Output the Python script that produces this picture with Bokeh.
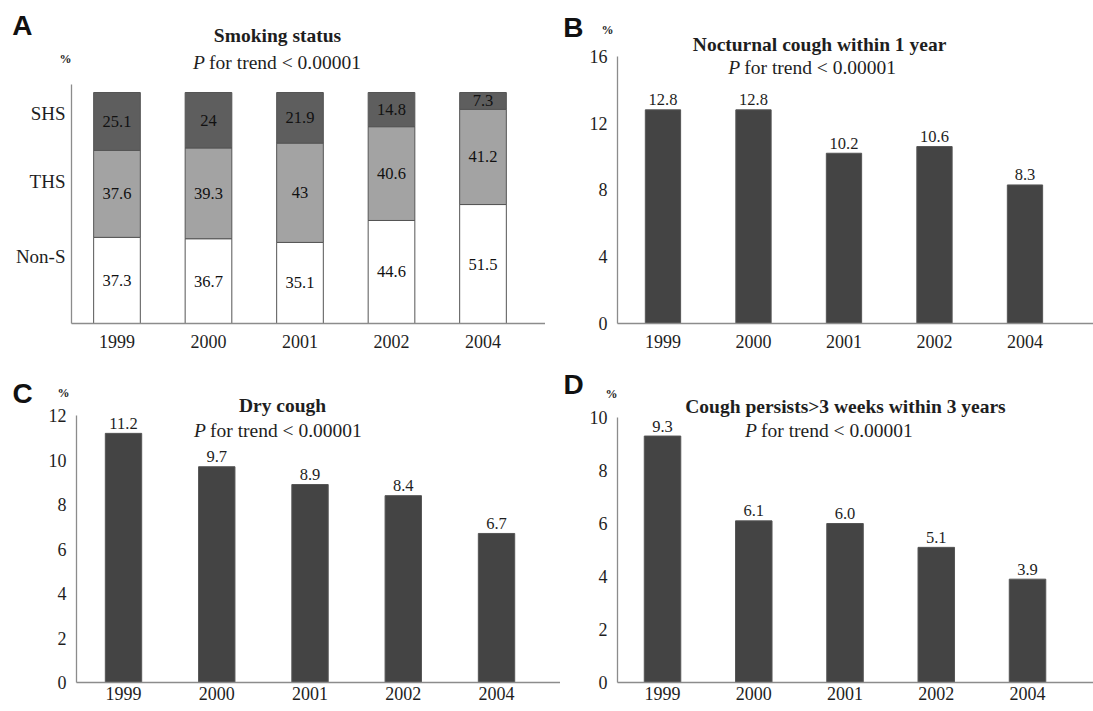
from bokeh.plotting import figure
from bokeh.layouts import column, row
from bokeh.models import Range1d, FixedTicker, Label, ColumnDataSource
from bokeh.core.properties import value
from bokeh.embed import file_html
from bokeh.resources import INLINE

years = ["1999", "2000", "2001", "2002", "2004"]
non_s = [37.3, 36.7, 35.1, 44.6, 51.5]
ths = [37.6, 39.3, 43.0, 40.6, 41.2]
shs = [25.1, 24.0, 21.9, 14.8, 7.3]
shs_txt = ["25.1", "24", "21.9", "14.8", "7.3"]
ths_txt = ["37.6", "39.3", "43", "40.6", "41.2"]
non_txt = ["37.3", "36.7", "35.1", "44.6", "51.5"]
nocturnal = [12.8, 12.8, 10.2, 10.6, 8.3]
dry = [11.2, 9.7, 8.9, 8.4, 6.7]
persist = [9.3, 6.1, 6.0, 5.1, 3.9]

SERIF = "Liberation Serif"
SANS = "Liberation Sans"
BAR = "#444444"
AX = "#8c8c8c"
TXT = "#1e1e1e"

xs = list(range(len(years)))


def base(width, height, x0, x1, ybot, ytop, axis_x):
    p = figure(width=width, height=height, x_range=Range1d(x0, x1), y_range=Range1d(ybot, ytop),
               output_backend="svg", toolbar_location=None,
               min_border_left=0, min_border_right=0, min_border_top=0,
               min_border_bottom=0)
    p.outline_line_color = None
    p.grid.grid_line_color = None
    p.background_fill_color = "white"
    p.border_fill_color = "white"
    for ax in (p.xaxis[0], p.yaxis[0]):
        ax.axis_line_color = AX
        ax.axis_line_width = 1.3
        ax.major_tick_line_color = None
        ax.minor_tick_line_color = None
        ax.major_tick_out = 0
        ax.major_tick_in = 0
        ax.major_label_text_font = SERIF
        ax.major_label_text_font_size = "18px"
        ax.major_label_text_color = TXT
    p.yaxis.fixed_location = axis_x
    p.xaxis.fixed_location = 0
    p.xaxis.bounds = (axis_x, x1)
    p.xaxis.ticker = FixedTicker(ticks=xs)
    p.xaxis.major_label_overrides = {i: y for i, y in enumerate(years)}
    return p


def add_titles(p, title, tx, ty, px_, py_, letter, lx, ly, pcx, pcy):
    p.add_layout(Label(x=tx, y=ty, text=title, text_font=SERIF, text_font_size="19.5px",
                       text_font_style="bold", text_align="center", text_baseline="middle",
                       text_color=TXT))
    p.add_layout(Label(x=px_, y=py_, text="P", text_font=SERIF, text_font_size="19.5px",
                       text_font_style="italic", text_align="left", text_baseline="middle",
                       text_color=TXT, x_offset=-84))
    p.add_layout(Label(x=px_, y=py_, text="for trend < 0.00001", text_font=SERIF,
                       text_font_size="19.5px", text_align="left", text_baseline="middle",
                       text_color=TXT, x_offset=-68))
    p.add_layout(Label(x=lx, y=ly, text=letter, text_font=SANS, text_font_size="28px",
                       text_font_style="bold", text_align="center", text_baseline="middle",
                       text_color="#111111"))
    p.add_layout(Label(x=pcx, y=pcy, text="%", text_font=SERIF, text_font_size="12px",
                       text_font_style="bold", text_align="center", text_baseline="middle",
                       text_color="#222222"))


# ---------- Panel A ----------
pa = base(545, 355, -1.273, 4.683, -13.85, 139.83, -0.497)
pa.yaxis.bounds = (0, 103.5)
pa.yaxis.ticker = FixedTicker(ticks=[29, 61.5, 91])
pa.yaxis.major_label_overrides = {29: "Non-S", 61.5: "THS", 91: "SHS"}
pa.yaxis.major_label_text_font_size = "19px"
pa.yaxis.major_label_standoff = 6
pa.xaxis.major_label_standoff = 11
srcA = ColumnDataSource(dict(x=xs, non=non_s,
                             b1=[a + b for a, b in zip(non_s, ths)],
                             top=[a + b + c for a, b, c in zip(non_s, ths, shs)],
                             non_txt=non_txt, ths_txt=ths_txt, shs_txt=shs_txt,
                             non_mid=[a / 2 for a in non_s],
                             ths_mid=[a + b / 2 for a, b in zip(non_s, ths)],
                             shs_mid=[a + b + c / 2 for a, b, c in zip(non_s, ths, shs)]))
pa.vbar(x="x", bottom=0, top="non", width=0.51, source=srcA,
        fill_color="white", line_color="#555555", line_width=1)
pa.vbar(x="x", bottom="non", top="b1", width=0.51, source=srcA,
        fill_color="#a3a3a3", line_color="#555555", line_width=1)
pa.vbar(x="x", bottom="b1", top="top", width=0.51, source=srcA,
        fill_color="#5e5e5e", line_color="#555555", line_width=1)
for t, m in (("non_txt", "non_mid"), ("ths_txt", "ths_mid"), ("shs_txt", "shs_mid")):
    pa.text(x="x", y=m, text=t, source=srcA, text_font=value(SERIF),
            text_font_size="16.5px", text_align="center", text_baseline="middle",
            text_color="#111111")
add_titles(pa, "Smoking status", 1.754, 124.7, 1.75, 113.0, "A", -1.033, 129.0, -0.563, 114.7)


def simple(width, height, x0, x1, ybot, ytop, axis_x, vals, bound, ticks, standoff_x,
           bar_w, px_per_unit):
    p = base(width, height, x0, x1, ybot, ytop, axis_x)
    p.yaxis.bounds = (0, bound)
    p.yaxis.ticker = FixedTicker(ticks=ticks)
    p.yaxis.major_label_standoff = 10
    p.xaxis.major_label_standoff = standoff_x
    src = ColumnDataSource(dict(x=xs, v=vals, t=["%.1f" % v for v in vals],
                                ty=[v + 10.0 / px_per_unit for v in vals]))
    p.vbar(x="x", bottom=0, top="v", width=bar_w, source=src,
           fill_color=BAR, line_color="#555555", line_width=1)
    p.text(x="x", y="ty", text="t", source=src, text_font=value(SERIF),
           text_font_size="16.5px", text_align="center", text_baseline="middle",
           text_color=TXT)
    return p


# ---------- Panel B ----------
pb = simple(548, 355, -1.298, 4.757, -1.917, 19.35, -0.503,
            nocturnal, 16, [0, 4, 8, 12, 16], 11, 0.39, 16.69)
add_titles(pb, "Nocturnal cough within 1 year", 1.73, 16.72, 1.65, 15.34,
           "B", -0.989, 17.73, -0.613, 17.61)

# ---------- Panel C ----------
pc = simple(560, 356, -1.319, 4.686, -1.303, 14.70, -0.504,
            dry, 12, [0, 2, 4, 6, 8, 10, 12], 4, 0.39, 22.25)
add_titles(pc, "Dry cough", 1.705, 12.45, 1.657, 11.33,
           "C", -1.083, 12.99, -0.643, 13.03)

# ---------- Panel D ----------
pd_ = simple(533, 356, -1.118, 4.723, -1.094, 12.34, -0.493,
             persist, 10, [0, 2, 4, 6, 8, 10], 4, 0.40, 26.5)
add_titles(pd_, "Cough persists>3 weeks within 3 years", 2.005, 10.42, 1.825, 9.51,
           "D", -0.975, 11.25, -0.559, 10.87)

layout = column(row(pa, pb, spacing=0), row(pc, pd_, spacing=0), spacing=0)
open("out.html", "w").write(file_html(layout, INLINE))
